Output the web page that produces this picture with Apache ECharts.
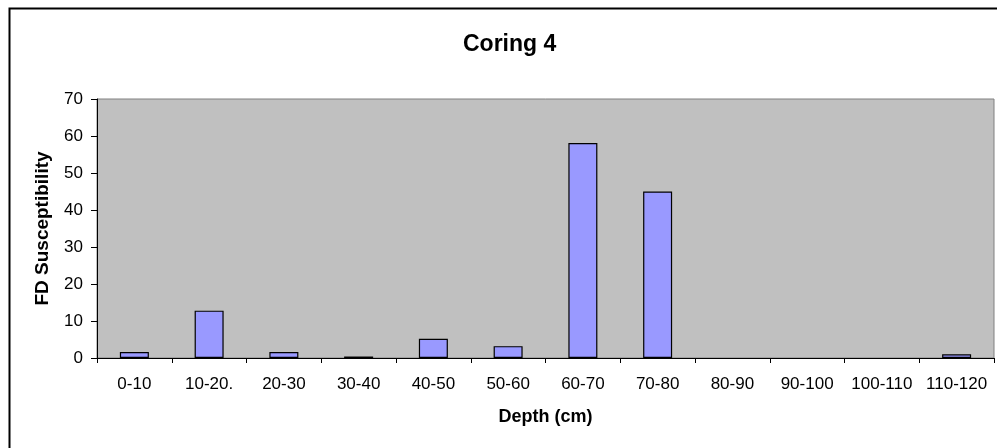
<!DOCTYPE html>
<html>
<head>
<meta charset="utf-8">
<script src="https://cdn.jsdelivr.net/npm/echarts@6/dist/echarts.min.js"></script>
<style>
html,body{margin:0;padding:0;background:#fff;}
#chart{width:997px;height:448px;}
</style>
</head>
<body>
<div id="chart"></div>
<script>
var categories = ['0-10','10-20.','20-30','30-40','40-50','50-60','60-70','70-80','80-90','90-100','100-110','110-120'];
var fdValues = [1.6, 12.8, 1.6, 0.4, 5.2, 3.2, 58.1, 45.0, null, null, null, 1.0];
var yTicks = {min: 0, max: 70, interval: 10};

var font = 'Arial, "Liberation Sans", sans-serif';
var chart = echarts.init(document.getElementById('chart'), null, {renderer: 'canvas'});
chart.setOption({
  backgroundColor: '#ffffff',
  animation: false,
  title: {
    text: 'Coring 4',
    left: 458,
    top: 28,
    textStyle: {fontFamily: font, fontSize: 23, fontWeight: 'bold', color: '#000'}
  },
  graphic: [{
    type: 'rect',
    shape: {x: 9.5, y: 8.5, width: 1100, height: 600},
    style: {fill: 'none', stroke: '#000', lineWidth: 2},
    silent: true
  }],
  grid: {
    left: 97, right: 3, top: 99, bottom: 90,
    show: true,
    backgroundColor: '#C0C0C0',
    borderColor: '#808080',
    borderWidth: 1
  },
  xAxis: {
    type: 'category',
    data: categories,
    name: 'Depth (cm)',
    nameLocation: 'middle',
    nameGap: 50,
    nameTextStyle: {fontFamily: font, fontSize: 18, fontWeight: 'bold', color: '#000'},
    axisLine: {show: true, lineStyle: {color: '#000', width: 1}},
    axisTick: {show: true, length: 5, lineStyle: {color: '#000'}},
    axisLabel: {fontFamily: font, fontSize: 17, color: '#000', margin: 18, interval: 0},
    splitLine: {show: false}
  },
  yAxis: {
    type: 'value',
    min: yTicks.min, max: yTicks.max, interval: yTicks.interval,
    name: 'FD Susceptibility',
    nameLocation: 'middle',
    nameGap: 45,
    nameTextStyle: {fontFamily: font, fontSize: 19, fontWeight: 'bold', color: '#000'},
    axisLine: {show: true, lineStyle: {color: '#000', width: 1}},
    axisTick: {show: true, length: 6, lineStyle: {color: '#000'}},
    axisLabel: {fontFamily: font, fontSize: 17, color: '#000', margin: 14},
    splitLine: {show: false}
  },
  series: [{
    type: 'bar',
    data: fdValues,
    barWidth: 29,
    itemStyle: {color: '#9999FF', borderColor: '#000', borderWidth: 1.2}
  }]
});
</script>
</body>
</html>
